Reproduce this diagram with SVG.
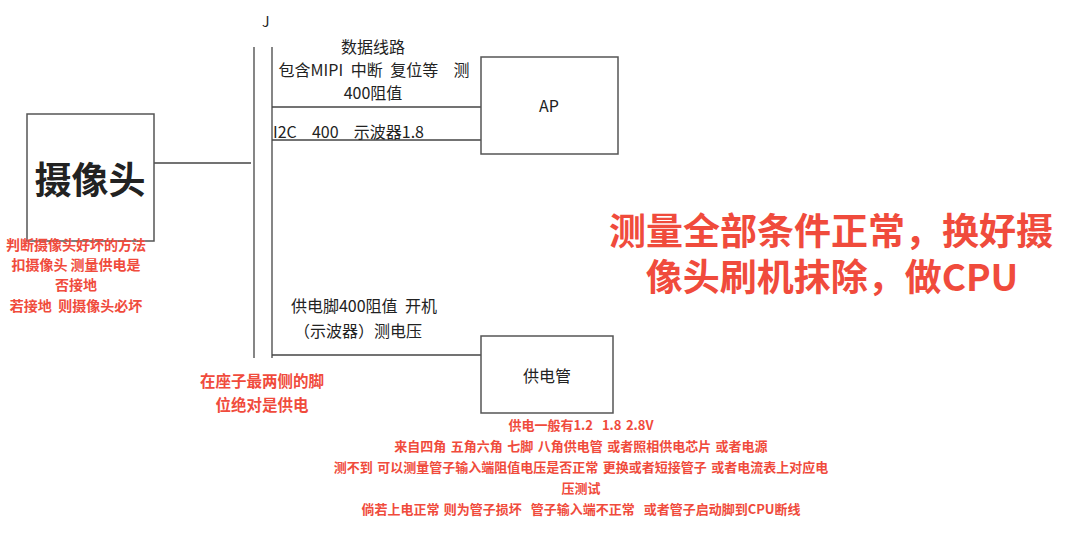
<svg xmlns="http://www.w3.org/2000/svg" width="1074" height="539" viewBox="0 0 1074 539">
<style>
.box{fill:#fff;stroke:#555;stroke-width:1.5}
.ln{stroke:#444;stroke-width:1.3;fill:none}
.t{font-family:"Noto Sans CJK SC","Liberation Sans",sans-serif;fill:#222}
.r{font-family:"Noto Sans CJK SC","Liberation Sans",sans-serif;fill:#f04b3c;font-weight:bold}
</style>
<rect width="1074" height="539" fill="#fff"/>
<g id="connectors">
<line class="ln" x1="154" y1="163" x2="251" y2="163"/>
<line class="ln" x1="254" y1="47" x2="254" y2="358"/>
<line class="ln" x1="272" y1="47" x2="272" y2="358"/>
<line class="ln" x1="272" y1="107" x2="481" y2="107"/>
<line class="ln" x1="272" y1="140" x2="481" y2="140"/>
<line class="ln" x1="272" y1="355" x2="481" y2="355"/>
</g>
<g id="camera">
<rect class="box" x="27" y="114" width="127" height="127"/>
<text class="t" x="90" y="194" text-anchor="middle" font-size="37" font-weight="bold" fill="#111">摄像头</text>
</g>
<g id="camera-note" class="r" font-size="14" text-anchor="middle">
<text x="76" y="250">判断摄像头好坏的方法</text>
<text x="76" y="270">扣摄像头 测量供电是</text>
<text x="76" y="290">否接地</text>
<text x="76" y="311">若接地 &#160;则摄像头必坏</text>
</g>
<g id="connector-j">
<text class="t" x="262" y="27" font-size="14">J</text>
</g>
<g id="data-label" class="t" text-anchor="middle" font-size="16" word-spacing="4">
<text x="373" y="53">数据线路</text>
<text x="374" y="76">包含MIPI 中断 复位等 &#160;测</text>
<text x="373" y="99">400阻值</text>
<text x="273" y="138" text-anchor="start">I2C &#160;400 &#160;示波器1.8</text>
</g>
<g id="ap">
<rect class="box" x="481" y="57" width="137" height="97"/>
<text class="t" x="549" y="112" text-anchor="middle" font-size="16">AP</text>
</g>
<g id="power-label" class="t" text-anchor="middle" font-size="16" word-spacing="4">
<text x="364" y="312">供电脚400阻值 开机</text>
<text x="358" y="337">（示波器）测电压</text>
</g>
<g id="pin-note" class="r" font-size="15.5" text-anchor="middle">
<text x="262" y="387">在座子最两侧的脚</text>
<text x="262" y="411">位绝对是供电</text>
</g>
<g id="power-tube">
<rect class="box" x="481" y="336" width="132" height="77"/>
<text class="t" x="547" y="382" text-anchor="middle" font-size="16">供电管</text>
</g>
<g id="power-note" class="r" font-size="13" text-anchor="middle" word-spacing="1.5">
<text x="581" y="430">供电一般有1.2 &#160;1.8 2.8V</text>
<text x="581" y="451">来自四角 五角六角 七脚 八角供电管 或者照相供电芯片 或者电源</text>
<text x="581" y="472">测不到 可以测量管子输入端阻值电压是否正常 更换或者短接管子 或者电流表上对应电</text>
<text x="581" y="493">压测试</text>
<text x="581" y="514">倘若上电正常 则为管子损坏 &#160;管子输入端不正常 &#160;或者管子启动脚到CPU断线</text>
</g>
<g id="conclusion" class="r" font-size="37" text-anchor="middle">
<text><tspan x="831" y="245">测量全部条件正常，换好摄</tspan><tspan x="832" y="291">像头刷机抹除，做CPU</tspan></text>
</g>
</svg>
